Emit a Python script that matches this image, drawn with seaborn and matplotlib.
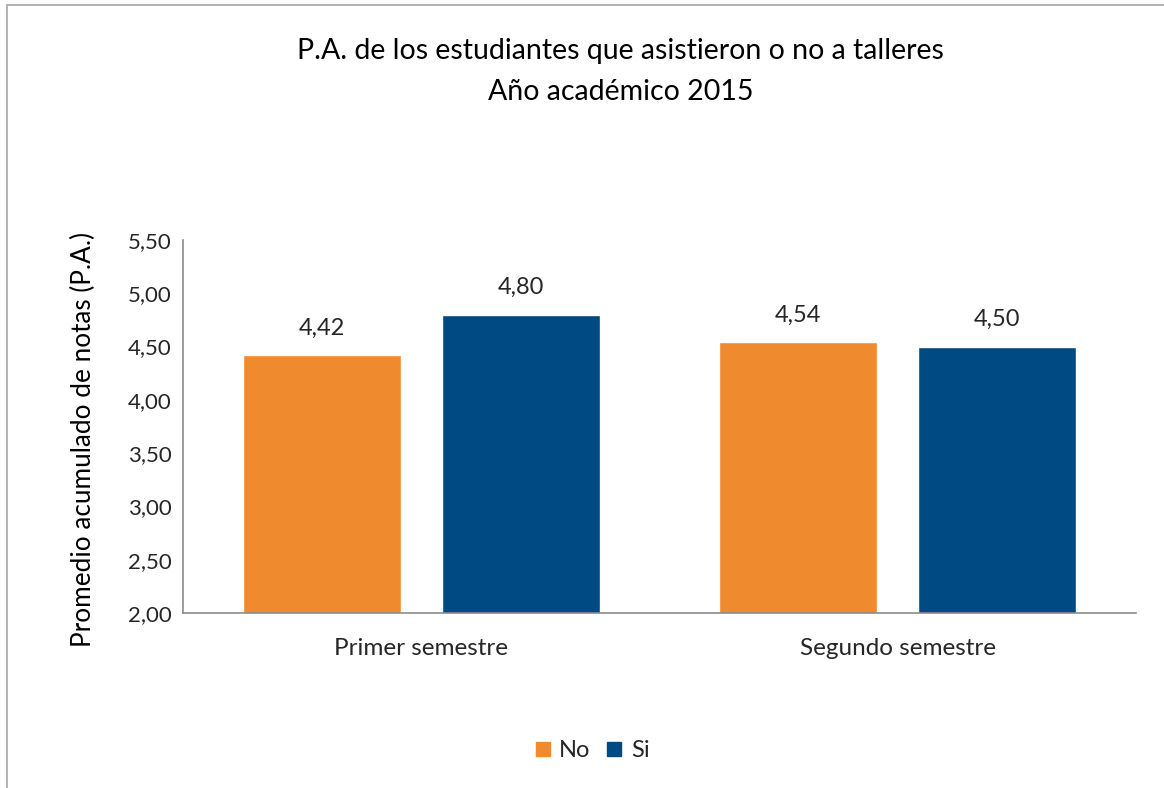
import seaborn as sns
import matplotlib.pyplot as plt
import pandas as pd
from matplotlib.lines import Line2D

sns.set_theme(style="white")
plt.rcParams['font.family'] = ['Lato', 'DejaVu Sans']

# data
semestres = ["Primer semestre", "Segundo semestre"]
asistio = ["No", "Si"]
pa_no = [4.42, 4.54]
pa_si = [4.80, 4.50]
colores = ["#F08A2E", "#004A84"]

df = pd.DataFrame({
    "semestre": semestres * 2,
    "asistio": ["No"] * 2 + ["Si"] * 2,
    "pa": pa_no + pa_si,
})

fig = plt.figure(figsize=(11.64, 7.88), dpi=100)
ax = fig.add_axes([0.1572, 0.2221, 0.8188, 0.4733])

sns.barplot(data=df, x="semestre", y="pa", hue="asistio", hue_order=asistio,
            palette=colores, width=0.835, gap=0.206, saturation=1,
            ax=ax, legend=False)

ax.set_ylim(2.0, 5.5)
ax.set_yticks([2.0, 2.5, 3.0, 3.5, 4.0, 4.5, 5.0, 5.5])
ax.set_yticklabels([f"{v:.2f}".replace(".", ",") for v in ax.get_yticks()],
                   fontsize=16, color="#262626")
ax.tick_params(axis="x", labelsize=17.5, colors="#262626", pad=12)
ax.tick_params(axis="y", pad=8, length=0)
ax.set_xlabel("")
ax.set_ylabel("Promedio acumulado de notas (P.A.)", fontsize=18.8, color="black")
ax.yaxis.set_label_coords(-0.0913, 0.464)

for c in ax.containers:
    ax.bar_label(c, labels=[f"{v:.2f}".replace(".", ",") for v in c.datavalues],
                 fontsize=17, color="#262626", padding=12)

for s in ["top", "right"]:
    ax.spines[s].set_visible(False)
for s in ["left", "bottom"]:
    ax.spines[s].set_color("#8c8c8c")
    ax.spines[s].set_linewidth(1.2)

fig.text(0.533, 0.935, "P.A. de los estudiantes que asistieron o no a talleres",
         ha="center", va="center", fontsize=20.5, color="black")
fig.text(0.533, 0.883, "Año académico 2015", ha="center", va="center",
         fontsize=20.5, color="black")

handles = [Line2D([], [], marker="s", linestyle="", markersize=9.5, color=c) for c in colores]
fig.legend(handles, asistio, loc="center", bbox_to_anchor=(0.508, 0.047), ncol=2,
           frameon=False, fontsize=17, handlelength=0.8, handletextpad=0.3,
           columnspacing=0.6)

# outer chart border
fig.add_artist(Line2D([0.006, 0.006], [0.0, 0.994], color="#a6a6a6", lw=1.2))
fig.add_artist(Line2D([0.006, 1.0], [0.994, 0.994], color="#a6a6a6", lw=1.2))

fig.savefig("out.png", dpi=100)
